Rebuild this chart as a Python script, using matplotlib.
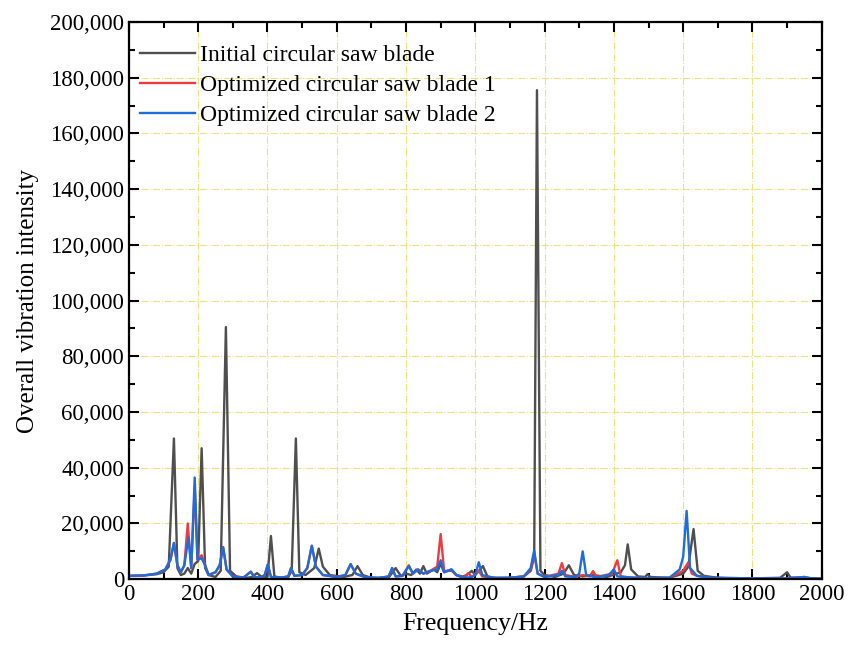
import numpy as np
import matplotlib.pyplot as plt
from matplotlib.ticker import MultipleLocator, FuncFormatter


# Initial circular saw blade
freq_init = [0, 40, 80, 100, 115, 130, 140, 150, 160, 170, 180, 190, 200, 210, 220, 230,
             250, 265, 280, 292, 310, 340, 355, 370, 385, 400, 410, 420, 440, 460, 470,
             482, 492, 510, 535, 548, 560, 580, 620, 645, 660, 675, 700, 750, 770, 785,
             800, 815, 830, 840, 850, 860, 880, 890, 900, 910, 930, 945, 960, 975, 990,
             1000, 1022, 1035, 1060, 1100, 1140, 1160, 1170, 1178, 1188, 1200, 1230,
             1255, 1270, 1285, 1310, 1340, 1380, 1420, 1432, 1440, 1450, 1470, 1490,
             1497, 1505, 1560, 1600, 1615, 1630, 1642, 1660, 1700, 1750, 1800, 1880,
             1900, 1910, 1950, 2000]
val_init = [1200, 1300, 1800, 2500, 4500, 50500, 4000, 1500, 2000, 4000, 2000, 5500, 6500,
            47000, 4000, 1500, 800, 3000, 90500, 3000, 1000, 500, 800, 2200, 600, 800,
            15500, 1000, 500, 800, 3000, 50500, 2500, 1500, 4000, 11000, 4500, 1500, 800,
            1500, 4700, 1500, 500, 600, 4000, 1200, 2000, 1500, 3500, 2000, 4700, 2000,
            3500, 2500, 5500, 2500, 3500, 1500, 800, 1500, 3000, 1500, 4700, 1000, 400,
            500, 1000, 3000, 8000, 175500, 3000, 1500, 800, 2000, 5000, 1500, 1000, 1500,
            800, 2500, 5000, 12500, 3500, 1000, 800, 1800, 800, 500, 2000, 4500, 18000,
            3000, 1200, 500, 300, 300, 500, 2500, 600, 300, 200]

# Optimized circular saw blade 1
freq_opt1 = [0, 40, 80, 105, 120, 130, 140, 150, 160, 170, 180, 190, 198, 210, 220, 230,
             250, 262, 272, 282, 300, 330, 352, 362, 380, 392, 401, 410, 440, 460, 468,
             478, 500, 515, 528, 540, 560, 600, 625, 640, 655, 680, 720, 750, 760, 770,
             790, 808, 820, 835, 850, 870, 890, 900, 910, 932, 945, 970, 980, 990, 1010,
             1020, 1050, 1100, 1140, 1160, 1170, 1180, 1200, 1240, 1250, 1260, 1290,
             1310, 1330, 1340, 1350, 1395, 1410, 1420, 1450, 1500, 1560, 1600, 1615,
             1625, 1640, 1680, 1750, 1800, 1900, 1950, 1970, 2000]
val_opt1 = [1200, 1300, 2000, 3500, 7000, 13000, 5000, 2500, 5000, 20000, 4000, 33000,
            7000, 8600, 5000, 1500, 2500, 5000, 11500, 3500, 1000, 500, 2700, 800, 600,
            1500, 5300, 800, 600, 1000, 4000, 1200, 1500, 4000, 12000, 4500, 1500, 800,
            1500, 5400, 2000, 800, 400, 1000, 4000, 1000, 1200, 5000, 2000, 3500, 2000,
            3000, 4500, 16200, 3000, 3000, 1500, 800, 2200, 800, 3000, 1000, 500, 500,
            1000, 3500, 9000, 2000, 800, 2000, 5800, 1500, 800, 1500, 1000, 2900, 800,
            2000, 6800, 1000, 600, 400, 500, 3000, 6100, 2000, 1200, 500, 400, 300, 300,
            800, 300, 200]

# Optimized circular saw blade 2
freq_opt2 = [0, 40, 80, 105, 120, 130, 140, 150, 160, 172, 180, 190, 198, 210, 220, 230,
             250, 262, 272, 282, 300, 330, 352, 362, 380, 392, 401, 410, 440, 460, 468,
             478, 500, 515, 528, 540, 560, 600, 625, 640, 655, 680, 720, 750, 760, 770,
             790, 808, 820, 835, 850, 870, 890, 900, 910, 932, 945, 970, 990, 1000, 1010,
             1020, 1050, 1100, 1140, 1160, 1170, 1180, 1200, 1240, 1250, 1260, 1290,
             1300, 1310, 1320, 1350, 1385, 1400, 1410, 1450, 1500, 1560, 1590, 1600,
             1610, 1620, 1640, 1680, 1750, 1800, 1900, 1950, 1970, 2000]
val_opt2 = [1200, 1300, 2000, 3500, 7000, 13000, 5000, 2500, 5000, 15000, 4000, 36500,
            7000, 7500, 5000, 1500, 2500, 5000, 11500, 3500, 1000, 500, 2700, 800, 600,
            1500, 5300, 800, 600, 1000, 4000, 1200, 1500, 4000, 12000, 4500, 1500, 800,
            1500, 5400, 2000, 800, 400, 1000, 4000, 1000, 1200, 4700, 2000, 3500, 2000,
            3000, 3500, 6800, 2500, 3500, 1500, 500, 800, 1500, 6100, 1500, 500, 500,
            1000, 4000, 10400, 2000, 800, 1500, 3000, 1000, 800, 2000, 10000, 1500, 600,
            1500, 3500, 1000, 600, 400, 500, 3500, 8000, 24500, 4000, 1200, 500, 400,
            300, 300, 800, 300, 200]

labels = ['Initial circular saw blade', 'Optimized circular saw blade 1',
          'Optimized circular saw blade 2']
colors = ['#4f4f4f', '#ef3b3f', '#1c6de0']

plt.rcParams['font.family'] = ['Liberation Serif', 'DejaVu Serif']
plt.rcParams['font.size'] = 16

fig = plt.figure(figsize=(8.48, 6.45), dpi=100)
ax = fig.add_axes([0.152, 0.102, 0.817, 0.864])

ax.plot(freq_init, val_init, color=colors[0], lw=1.7, label=labels[0])
ax.plot(freq_opt1, val_opt1, color=colors[1], lw=1.7, label=labels[1])
ax.plot(freq_opt2, val_opt2, color=colors[2], lw=1.7, label=labels[2])

ax.set_xlim(0, 2000)
ax.set_ylim(0, 200000)
ax.xaxis.set_major_locator(MultipleLocator(200))
ax.xaxis.set_minor_locator(MultipleLocator(100))
ax.yaxis.set_major_locator(MultipleLocator(20000))
ax.yaxis.set_minor_locator(MultipleLocator(10000))
ax.yaxis.set_major_formatter(FuncFormatter(lambda v, p: f'{int(v):,}'))

ax.grid(True, which='major', color='#f0e27a', ls='-.', lw=0.8)
ax.set_axisbelow(True)

ax.tick_params(which='both', direction='in', top=True, right=True, width=1.5,
               labelsize=16.5)
ax.tick_params(which='major', length=7)
ax.tick_params(which='minor', length=4)
for s in ax.spines.values():
    s.set_linewidth(1.6)

ax.set_xlabel('Frequency/Hz', fontsize=18.5, labelpad=6)
ax.set_ylabel('Overall vibration intensity', fontsize=18, labelpad=8)

ax.legend(loc='upper left', bbox_to_anchor=(-0.016, 1.0), frameon=False, fontsize=17,
          handlelength=2.3, handletextpad=0.25, labelspacing=0.36, borderaxespad=0.55)

fig.savefig('out.png', dpi=100)
